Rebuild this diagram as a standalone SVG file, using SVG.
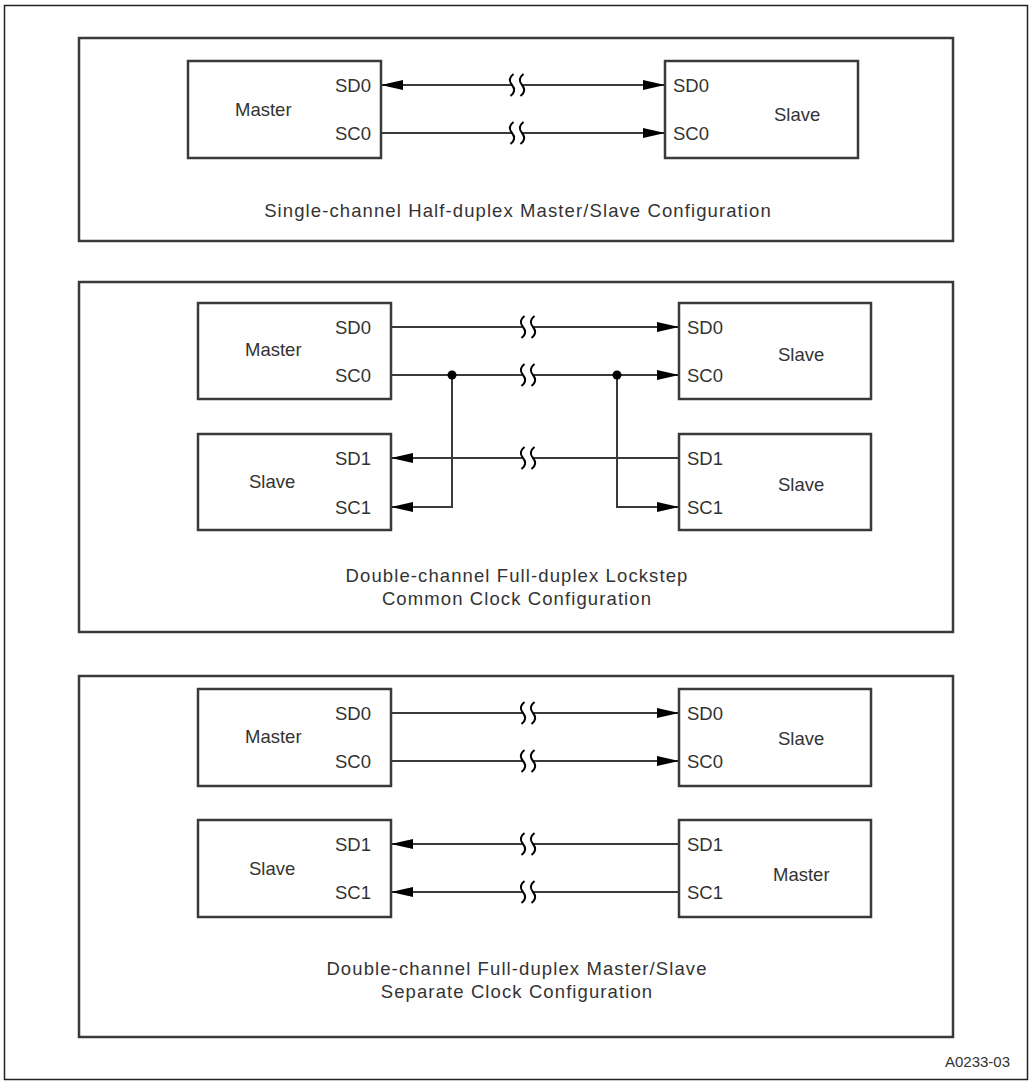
<svg xmlns="http://www.w3.org/2000/svg" width="1030" height="1081" viewBox="0 0 1030 1081">
<style>
  text { font-family: "Liberation Sans", Arial, sans-serif; font-size: 18.5px; fill: #333; }
  .end { text-anchor: end; }
  .cap { text-anchor: middle; letter-spacing: 1.1px; }
  .panel { fill: none; stroke: #3a3a3c; stroke-width: 2.5; }
  .box { fill: #fff; stroke: #3a3a3c; stroke-width: 2.5; }
  .wire { fill: none; stroke: #3a3a3a; stroke-width: 2; }
  .arr { marker-end: url(#ah); }
  .brk path { fill: none; stroke: #000; stroke-width: 2; }
</style>
<defs>
  <marker id="ah" markerUnits="userSpaceOnUse" markerWidth="23" markerHeight="11" refX="22" refY="5" orient="auto-start-reverse">
    <path d="M0,0 L22,5 L0,10 Z" fill="#000"/>
  </marker>
  <g id="brk" class="brk">
    <rect x="-5" y="-12" width="10" height="24" fill="#fff"/>
    <path d="M-3.5,-11 Q-10,-6 -5,0 Q0,6 -6.5,11"/>
    <path d="M6.5,-11 Q0,-6 5,0 Q10,6 3.5,11"/>
  </g>
</defs>
<rect x="4.5" y="5.5" width="1023" height="1074" fill="#fff" stroke="#222" stroke-width="1.5"/>

<g id="panel1">
  <rect class="panel" x="79" y="38" width="874" height="203"/>
  <text class="cap" x="518" y="217">Single-channel Half-duplex Master/Slave Configuration</text>
</g>
<g id="panel2">
  <rect class="panel" x="79" y="282" width="874" height="350"/>
  <text class="cap" x="517" y="582">Double-channel Full-duplex Lockstep</text>
  <text class="cap" x="517" y="605">Common Clock Configuration</text>
</g>
<g id="panel3">
  <rect class="panel" x="79" y="676" width="874" height="361"/>
  <text class="cap" x="517" y="975">Double-channel Full-duplex Master/Slave</text>
  <text class="cap" x="517" y="998">Separate Clock Configuration</text>
</g>

<g id="connectors">
  <line class="wire arr" x1="381" y1="85" x2="665" y2="85" marker-start="url(#ah)"/>
  <line class="wire arr" x1="381" y1="133" x2="665" y2="133"/>
  <use href="#brk" x="517" y="85"/>
  <use href="#brk" x="517" y="133"/>
  <line class="wire arr" x1="391" y1="327" x2="679" y2="327"/>
  <line class="wire arr" x1="391" y1="375" x2="679" y2="375"/>
  <line class="wire arr" x1="679" y1="458" x2="391" y2="458"/>
  <polyline class="wire arr" points="452,375 452,507 391,507"/>
  <polyline class="wire arr" points="617,375 617,507 679,507"/>
  <circle cx="452" cy="375" r="4.5" fill="#000"/>
  <circle cx="617" cy="375" r="4.5" fill="#000"/>
  <use href="#brk" x="528" y="327"/>
  <use href="#brk" x="528" y="375"/>
  <use href="#brk" x="528" y="458"/>
  <line class="wire arr" x1="391" y1="713" x2="679" y2="713"/>
  <line class="wire arr" x1="391" y1="761" x2="679" y2="761"/>
  <line class="wire arr" x1="679" y1="844" x2="391" y2="844"/>
  <line class="wire arr" x1="679" y1="892" x2="391" y2="892"/>
  <use href="#brk" x="528" y="713"/>
  <use href="#brk" x="528" y="761"/>
  <use href="#brk" x="528" y="844"/>
  <use href="#brk" x="528" y="892"/>
</g>

<g id="p1-master">
  <rect class="box" x="188" y="61" width="193" height="97"/>
  <text x="235" y="116">Master</text>
  <text class="end" x="371" y="92">SD0</text>
  <text class="end" x="371" y="140">SC0</text>
</g>
<g id="p1-slave">
  <rect class="box" x="665" y="61" width="193" height="97"/>
  <text x="774" y="121">Slave</text>
  <text x="673" y="92">SD0</text>
  <text x="673" y="140">SC0</text>
</g>

<g id="p2-master">
  <rect class="box" x="198" y="303" width="193" height="96"/>
  <text x="245" y="356">Master</text>
  <text class="end" x="371" y="334">SD0</text>
  <text class="end" x="371" y="382">SC0</text>
</g>
<g id="p2-slave-a">
  <rect class="box" x="679" y="303" width="192" height="96"/>
  <text x="778" y="361">Slave</text>
  <text x="687" y="334">SD0</text>
  <text x="687" y="382">SC0</text>
</g>
<g id="p2-slave-b">
  <rect class="box" x="198" y="434" width="193" height="96"/>
  <text x="249" y="488">Slave</text>
  <text class="end" x="371" y="465">SD1</text>
  <text class="end" x="371" y="514">SC1</text>
</g>
<g id="p2-slave-c">
  <rect class="box" x="679" y="434" width="192" height="96"/>
  <text x="778" y="491">Slave</text>
  <text x="687" y="465">SD1</text>
  <text x="687" y="514">SC1</text>
</g>

<g id="p3-master">
  <rect class="box" x="198" y="689" width="193" height="97"/>
  <text x="245" y="743">Master</text>
  <text class="end" x="371" y="720">SD0</text>
  <text class="end" x="371" y="768">SC0</text>
</g>
<g id="p3-slave">
  <rect class="box" x="679" y="689" width="192" height="97"/>
  <text x="778" y="745">Slave</text>
  <text x="687" y="720">SD0</text>
  <text x="687" y="768">SC0</text>
</g>
<g id="p3-slave-b">
  <rect class="box" x="198" y="820" width="193" height="97"/>
  <text x="249" y="875">Slave</text>
  <text class="end" x="371" y="851">SD1</text>
  <text class="end" x="371" y="899">SC1</text>
</g>
<g id="p3-master-b">
  <rect class="box" x="679" y="820" width="192" height="97"/>
  <text x="773" y="881">Master</text>
  <text x="687" y="851">SD1</text>
  <text x="687" y="899">SC1</text>
</g>

<text x="1010" y="1067" class="end" style="font-size:15px">A0233-03</text>
</svg>
